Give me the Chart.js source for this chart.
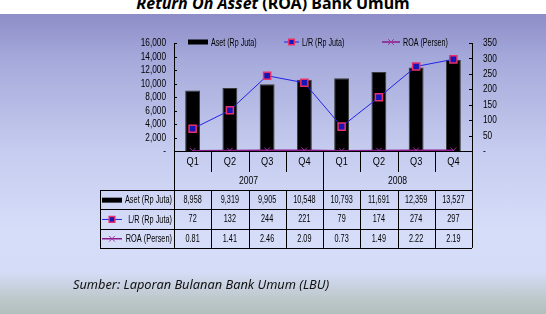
<!DOCTYPE html>
<html>
<head>
<meta charset="utf-8">
<script src="https://cdn.jsdelivr.net/npm/chart.js@4"></script>
<style>
  html, body { margin: 0; padding: 0; }
  body {
    width: 546px; height: 314px; position: relative; overflow: hidden;
    background: linear-gradient(to bottom, #ffffff 0px, #ffffff 14px, #8d8dc7 14px, #a6aadb 60px, #c6ccef 150px, #d6ddf9 230px, #d5dcf7 272px, #bcc7c9 300px, #b2bfbe 314px);
  }
  #title {
    position: absolute; left: 0; top: -5px; width: 546px; text-align: center;
    font: bold 16px/16px 'Noto Sans', sans-serif; color: #000; white-space: nowrap;
  }
  #source {
    position: absolute; left: 73px; top: 276px;
    font: italic 12.8px/16px 'Noto Sans', sans-serif; color: #111; white-space: nowrap;
  }
  #c { position: absolute; left: 0; top: 0; }
</style>
</head>
<body>
<div id="title"><i>Return On Asset</i> (ROA) Bank Umum</div>
<canvas id="c" width="546" height="314"></canvas>
<div id="source">Sumber: Laporan Bulanan Bank Umum (LBU)</div>
<script>
// data
var categories = ['Q1', 'Q2', 'Q3', 'Q4', 'Q1', 'Q2', 'Q3', 'Q4'];
var years = ['2007', '2008'];
var seriesNames = ['Aset (Rp Juta)', 'L/R (Rp Juta)', 'ROA (Persen)'];
var aset = [8958, 9319, 9905, 10548, 10793, 11691, 12359, 13527];
var labaRugi = [72, 132, 244, 221, 79, 174, 274, 297];
var roa = [0.81, 1.41, 2.46, 2.09, 0.73, 1.49, 2.22, 2.19];

var FONT = "'Liberation Sans', Arial, sans-serif";

function fmt(v) {
    return v === 0 ? '-' : v.toLocaleString('en-US');
}

// the original uses a very condensed face, squeeze the text horizontally
function narrowText(ctx, text, x, y, align, sx) {
    ctx.save();
    ctx.translate(x, y);
    ctx.scale(sx, 1);
    ctx.textAlign = align;
    ctx.fillText(text, 0, 0);
    ctx.restore();
}

function drawKey(ctx, ds, x, y, w, r) {
    ctx.save();
    if (ds.type === 'line') {
        ctx.strokeStyle = ds.borderColor;
        ctx.lineWidth = ds.borderWidth;
        ctx.beginPath();
        ctx.moveTo(x, y);
        ctx.lineTo(x + w, y);
        ctx.stroke();
        ctx.fillStyle = ds.pointBackgroundColor;
        ctx.strokeStyle = ds.pointBorderColor;
        ctx.lineWidth = ds.pointBorderWidth;
        Chart.helpers.drawPoint(ctx, { pointStyle: ds.pointStyle, radius: r || ds.pointRadius, rotation: 0, borderWidth: ds.pointBorderWidth }, x + w / 2, y);
    } else {
        ctx.fillStyle = ds.backgroundColor;
        ctx.fillRect(x, y - 2.5, w, 5);
    }
    ctx.restore();
}

var tablePlugin = {
    id: 'tablePlugin',
    afterDraw: function (chart) {
        var ctx = chart.ctx;
        var ca = chart.chartArea;
        var xs = chart.scales.x;
        var n = categories.length;
        var colW = (ca.right - ca.left) / n;
        var edge = function (i) { return xs.getPixelForValue(0) - colW / 2 + i * colW; };
        var rowQ = 21, rowY = 18, rowH = 19.3;
        var tTop = ca.bottom + rowQ + rowY;
        var tLeft = ca.left - 74;
        var tBottom = tTop + rowH * 3;

        ctx.save();
        ctx.strokeStyle = '#000';
        ctx.fillStyle = '#000';
        ctx.lineWidth = 1;
        ctx.textBaseline = 'middle';
        ctx.font = '11.5px ' + FONT;

        // axis tick marks (inward) and tick labels
        ['y', 'y1'].forEach(function (id) {
            var s = chart.scales[id];
            s.ticks.forEach(function (t) {
                var py = s.getPixelForValue(t.value);
                var ly = Math.round(py) + 0.5;
                ctx.beginPath();
                if (id === 'y') { ctx.moveTo(ca.left, ly); ctx.lineTo(ca.left + 3, ly); }
                else { ctx.moveTo(ca.right - 3, ly); ctx.lineTo(ca.right, ly); }
                ctx.stroke();
                if (id === 'y') narrowText(ctx, fmt(t.value), ca.left - 8, py, 'right', 0.72);
                else narrowText(ctx, fmt(t.value), ca.right + 11, py, 'left', 0.72);
            });
        });

        // category axis line
        ctx.beginPath();
        ctx.moveTo(ca.left, Math.round(ca.bottom) + 0.5);
        ctx.lineTo(ca.right, Math.round(ca.bottom) + 0.5);
        ctx.stroke();

        // category dividers
        for (var i = 0; i <= n; i++) {
            var ex = Math.round(edge(i)) + 0.5;
            var yearEdge = (i % 4 === 0);
            ctx.beginPath();
            ctx.moveTo(ex, ca.bottom);
            ctx.lineTo(ex, yearEdge ? tBottom : ca.bottom + rowQ);
            ctx.stroke();
        }

        categories.forEach(function (c, i) {
            narrowText(ctx, c, xs.getPixelForValue(i), ca.bottom + 11, 'center', 0.8);
        });
        years.forEach(function (yv, j) {
            var cx = (edge(j * 4) + edge(j * 4 + 4)) / 2;
            narrowText(ctx, yv, cx, ca.bottom + rowQ + 9, 'center', 0.75);
        });

        // data table
        var rows = [
            aset.map(function (v) { return v.toLocaleString('en-US'); }),
            labaRugi.map(function (v) { return String(v); }),
            roa.map(function (v) { return v.toFixed(2); })
        ];
        ctx.beginPath();
        for (var r = 0; r <= 3; r++) {
            var ry = Math.round(tTop + r * rowH) + 0.5;
            ctx.moveTo(tLeft, ry);
            ctx.lineTo(ca.right, ry);
        }
        ctx.moveTo(tLeft + 0.5, tTop);
        ctx.lineTo(tLeft + 0.5, tBottom);
        for (var k = 1; k < n; k++) {
            if (k % 4 === 0) continue;
            var kx = Math.round(edge(k)) + 0.5;
            ctx.moveTo(kx, tTop);
            ctx.lineTo(kx, tBottom);
        }
        ctx.stroke();

        rows.forEach(function (vals, r) {
            var cy = tTop + r * rowH + rowH / 2 + 0.5;
            ctx.fillStyle = '#000';
            ctx.font = '11px ' + FONT;
            vals.forEach(function (v, i) {
                narrowText(ctx, v, xs.getPixelForValue(i), cy, 'center', 0.66);
            });
            drawKey(ctx, chart.data.datasets[r], tLeft + 2, cy, 20, 4);
            ctx.fillStyle = '#000';
            ctx.font = '11.5px ' + FONT;
            narrowText(ctx, seriesNames[r], ca.left - 2, cy, 'right', 0.64);
        });

        // legend inside the plot
        var keyX = [ca.left + 14, ca.left + 110, ca.left + 208];
        var keyW = [20, 15, 18];
        var ly = ca.top - 1;
        chart.data.datasets.forEach(function (ds, d) {
            drawKey(ctx, ds, keyX[d], ly, keyW[d], 4);
            ctx.fillStyle = '#000';
            narrowText(ctx, seriesNames[d], keyX[d] + keyW[d] + 3, ly + 0.5, 'left', 0.62);
        });
        ctx.restore();
    }
};

var ctx = document.getElementById('c');
var myChart = new Chart(ctx, {
    data: {
        labels: categories,
        datasets: [{
            type: 'bar',
            label: seriesNames[0],
            data: aset,
            yAxisID: 'y',
            backgroundColor: '#000000',
            borderColor: '#3a3a3a',
            borderWidth: 1,
            barPercentage: 0.4,
            categoryPercentage: 1,
            order: 3
        }, {
            type: 'line',
            label: seriesNames[1],
            data: labaRugi,
            yAxisID: 'y1',
            borderColor: '#2323e6',
            borderWidth: 1,
            pointStyle: 'rect',
            pointRadius: 5,
            pointBackgroundColor: '#1616b8',
            pointBorderColor: '#e8306a',
            pointBorderWidth: 1.5,
            tension: 0,
            order: 2
        }, {
            type: 'line',
            label: seriesNames[2],
            data: roa,
            yAxisID: 'y1',
            borderColor: '#8a1a8f',
            borderWidth: 1.5,
            pointStyle: 'crossRot',
            pointRadius: 4,
            pointBackgroundColor: '#8a1a8f',
            pointBorderColor: '#a0309a',
            pointBorderWidth: 1,
            tension: 0,
            order: 1
        }]
    },
    options: {
        responsive: false,
        devicePixelRatio: 1,
        animation: false,
        layout: { padding: { left: 134, right: 34, top: 43, bottom: 163 } },
        plugins: { legend: { display: false }, tooltip: { enabled: false } },
        scales: {
            x: { display: false, offset: true },
            y: {
                position: 'left',
                min: 0, max: 16000,
                afterFit: function (s) { s.width = 40; },
                grid: { display: false },
                border: { display: true, color: '#000', width: 1 },
                ticks: { stepSize: 2000, display: false }
            },
            y1: {
                position: 'right',
                min: 0, max: 350,
                afterFit: function (s) { s.width = 40; },
                grid: { display: false },
                border: { display: true, color: '#000', width: 1 },
                ticks: { stepSize: 50, display: false }
            }
        }
    },
    plugins: [tablePlugin]
});
</script>
</body>
</html>
